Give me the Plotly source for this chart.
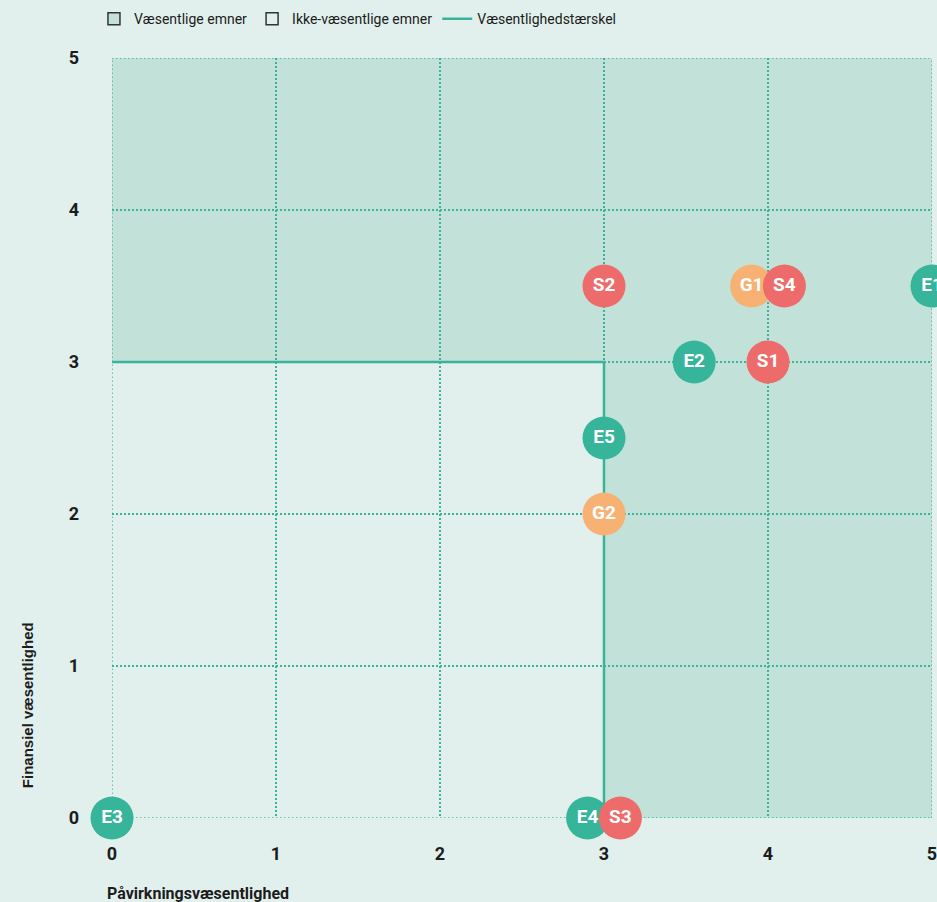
import plotly.graph_objects as go

# ---- data ----
labels = ["E1", "E2", "E3", "E4", "E5", "S1", "S2", "S3", "G1", "S4", "G2"]
x_vals = [5.0, 3.55, 0.0, 2.9, 3.0, 4.0, 3.0, 3.1, 3.9, 4.1, 3.0]
y_vals = [3.5, 3.0, 0.0, 0.0, 2.5, 3.0, 3.5, 0.0, 3.5, 3.5, 2.0]
groups = ["E", "E", "E", "E", "E", "S", "S", "S", "G", "S", "G"]
tick_vals = [0, 1, 2, 3, 4, 5]
tick_text = ["0", "1", "2", "3", "4", "5"]
threshold = 3
axis_min = 0
axis_max = 5

group_colors = {"E": "#36b59b", "S": "#ee6b6b", "G": "#f6b173"}
BG = "#e1f0ec"
SHADE = "#c2e2d9"
TEAL = "#3ab39b"
DARK = "#1c1c1c"
FONT = "Roboto"
DOT = "1.5px,2.5px"

fig = go.Figure()

# shaded (material) regions
fig.add_shape(type="rect", xref="x", yref="y", x0=axis_min, x1=axis_max, y0=threshold, y1=axis_max,
              fillcolor=SHADE, line_width=0, layer="below")
fig.add_shape(type="rect", xref="x", yref="y", x0=threshold, x1=axis_max, y0=axis_min, y1=threshold,
              fillcolor=SHADE, line_width=0, layer="below")

# dotted frame at the axis ends (same style as grid)
for xv in (axis_min, axis_max):
    fig.add_shape(type="line", xref="x", yref="y", x0=xv, x1=xv, y0=axis_min, y1=axis_max,
                  line=dict(color=TEAL, width=1.5, dash=DOT), layer="between")
for yv in (axis_min, axis_max):
    fig.add_shape(type="line", xref="x", yref="y", x0=axis_min, x1=axis_max, y0=yv, y1=yv,
                  line=dict(color=TEAL, width=1.5, dash=DOT), layer="between")

# legend entries for areas
fig.add_trace(go.Scatter(x=[None], y=[None], mode="markers", name="Væsentlige emner",
                         marker=dict(symbol="square", size=12, color=SHADE,
                                     line=dict(color="#333333", width=1.5))))
fig.add_trace(go.Scatter(x=[None], y=[None], mode="markers", name="Ikke-væsentlige emner",
                         marker=dict(symbol="square", size=12, color=BG,
                                     line=dict(color="#333333", width=1.5))))

# threshold line
fig.add_trace(go.Scatter(x=[axis_min, threshold, threshold], y=[threshold, threshold, axis_min],
                         mode="lines", name="Væsentlighedstærskel",
                         line=dict(color=TEAL, width=2.5)))

# topic points
fig.add_trace(go.Scatter(
    x=x_vals, y=y_vals, mode="markers+text", text=labels, showlegend=False,
    textposition="middle center",
    textfont=dict(family=FONT, size=19, color="white", weight="bold"),
    marker=dict(size=43, color=[group_colors[g] for g in groups], line=dict(width=0)),
    cliponaxis=False, hoverinfo="text"))

axis_common = dict(
    range=[axis_min, axis_max], tickvals=tick_vals, ticktext=tick_text,
    showgrid=True, gridcolor=TEAL, griddash=DOT, gridwidth=1.5,
    zeroline=False, showline=False, ticks="",
    tickfont=dict(family=FONT, size=18, color=DARK, weight="bold"),
    ticklabeloverflow="allow", automargin=False,
    fixedrange=True,
)

fig.update_xaxes(**axis_common, ticklabelstandoff=23)
fig.update_yaxes(**axis_common, ticklabelstandoff=32)

fig.add_annotation(text="Påvirkningsvæsentlighed", xref="paper", yref="paper",
                   x=-0.009, y=-0.099, xanchor="left", yanchor="middle", showarrow=False,
                   font=dict(family=FONT, size=16, color=DARK, weight="bold"))
fig.add_annotation(text="Finansiel væsentlighed", xref="paper", yref="paper",
                   x=-0.103, y=0.036, xanchor="center", yanchor="bottom", showarrow=False,
                   textangle=-90,
                   font=dict(family="Liberation Sans", size=15, color=DARK, weight="bold"))

fig.update_layout(
    width=937, height=902,
    margin=dict(l=112, r=5, t=58, b=84, autoexpand=False),
    paper_bgcolor=BG, plot_bgcolor=BG,
    font=dict(family=FONT, size=14, color=DARK),
    legend=dict(orientation="h", x=-0.022, xanchor="left", y=1.051, yanchor="middle",
                font=dict(family=FONT, size=14, color=DARK), bgcolor="rgba(0,0,0,0)",
                traceorder="normal"),
    showlegend=True,
)

fig.write_html(
    "out.html", config={"displayModeBar": False},
    post_script=("document.body.style.margin='0';"
                 "document.body.style.overflow='hidden';"
                 "document.documentElement.style.overflow='hidden';"),
)
